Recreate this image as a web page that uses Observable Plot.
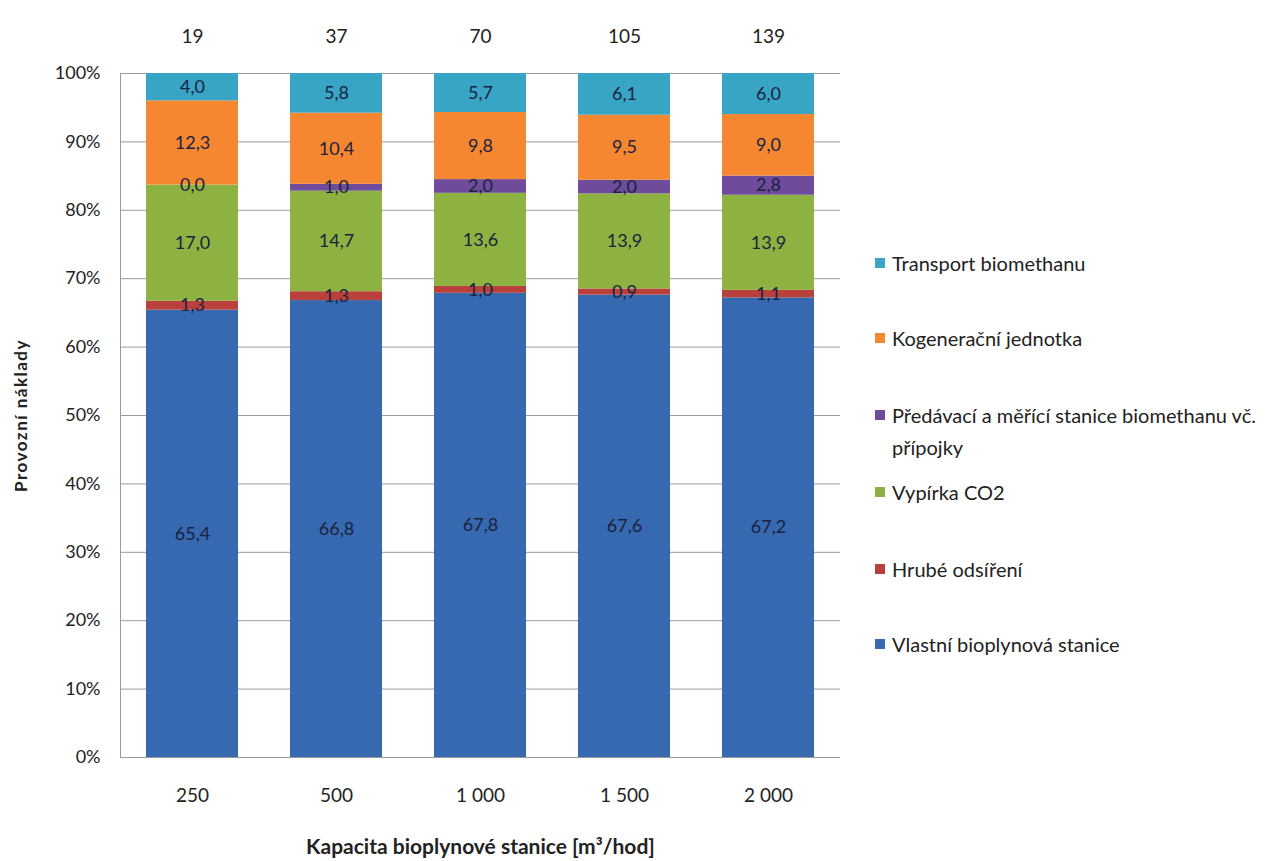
<!DOCTYPE html>
<html>
<head>
<meta charset="utf-8">
<script src="https://cdn.jsdelivr.net/npm/d3@7"></script>
<script src="https://cdn.jsdelivr.net/npm/@observablehq/plot@0.6"></script>
<style>
  body { margin: 0; background: #fff; font-family: Lato, "Open Sans", sans-serif; }
  #wrap { position: relative; width: 1268px; height: 861px; }
  #legend { position: absolute; left: 875px; top: 0; font-size: 20px; color: #222; }
  .item { position: absolute; left: 0; white-space: nowrap; line-height: 32px; }
  .sw { position: absolute; left: 0; top: 11px; width: 10px; height: 10px; }
  .lbl { position: absolute; left: 17px; top: 0; }
</style>
</head>
<body>
<div id="wrap"><div id="legend"></div></div>
<script>
// Capacity of the biogas plant (m³/h) and total operating costs per capacity
const capacities = ["250", "500", "1 000", "1 500", "2 000"];
const totals = [19, 37, 70, 105, 139];

// Cost components, listed from the bottom of each stack to the top
const series = [
  "Vlastní bioplynová stanice",
  "Hrubé odsíření",
  "Vypírka CO2",
  "Předávací a měřící stanice biomethanu vč. přípojky",
  "Kogenerační jednotka",
  "Transport biomethanu"
];
const colors = ["#3669b0", "#b9403b", "#8db241", "#6e4c9b", "#f4872f", "#38a5c5"];

// Share of each component (%) per capacity, same order as `series`
const vlastni     = [65.4, 66.8, 67.8, 67.6, 67.2];
const hrube       = [1.3, 1.3, 1.0, 0.9, 1.1];
const vypirka     = [17.0, 14.7, 13.6, 13.9, 13.9];
const predavaci   = [0.0, 1.0, 2.0, 2.0, 2.8];
const kogenerace  = [12.3, 10.4, 9.8, 9.5, 9.0];
const transport   = [4.0, 5.8, 5.7, 6.1, 6.0];
const shares = [vlastni, hrube, vypirka, predavaci, kogenerace, transport];

const rows = [];
capacities.forEach((c, i) => {
  series.forEach((s, j) => rows.push({capacity: c, series: s, value: shares[j][i]}));
});
const totalRows = capacities.map((c, i) => ({capacity: c, total: totals[i]}));

const fmt = v => v.toFixed(1).replace(".", ",");
const stack = {x: "capacity", y: "value", z: "series", offset: "normalize", order: series};

const chart = Plot.plot({
  width: 1268,
  height: 861,
  marginLeft: 120,
  marginRight: 428,
  marginTop: 73,
  marginBottom: 104,
  style: {fontFamily: "Lato, 'Open Sans', sans-serif", fontSize: "18px", color: "#222", background: "#fff"},
  x: {domain: capacities, paddingInner: 0.36, paddingOuter: 0.18},
  y: {domain: [0, 1]},
  color: {domain: series, range: colors},
  marks: [
    Plot.ruleY(d3.range(0, 1.0001, 0.1), {stroke: "#9a9a9a", strokeWidth: 1}),
    Plot.frame({anchor: "left", stroke: "#9a9a9a"}),
    Plot.barY(rows, Plot.stackY({...stack, fill: "series"})),
    Plot.text(rows, Plot.stackY({...stack, text: d => fmt(d.value), fill: "#1a2240", fontSize: 18})),
    Plot.text(totalRows, {x: "capacity", text: d => String(d.total), frameAnchor: "top", dy: -44, fontSize: 19, fill: "#222"}),
    Plot.axisY({ticks: d3.range(0, 1.0001, 0.1), tickFormat: d => Math.round(d * 100) + "%", tickSize: 0, tickPadding: 20,
      label: "Provozní náklady", labelArrow: "none", labelAnchor: "center", labelOffset: 106, fontSize: 18}),
    Plot.axisX({tickSize: 0, tickPadding: 31, label: "Kapacita bioplynové stanice [m³/hod]", labelArrow: "none",
      labelAnchor: "center", labelOffset: 96, fontSize: 19})
  ]
});

// Axis titles are bold
const yTitle = chart.querySelector("g[aria-label='y-axis label']");
if (yTitle) {
  yTitle.setAttribute("font-weight", "bold");
  yTitle.setAttribute("font-size", "17");
  yTitle.setAttribute("letter-spacing", "1.5");
}
const xTitle = chart.querySelector("g[aria-label='x-axis label']");
if (xTitle) {
  xTitle.setAttribute("font-weight", "bold");
  xTitle.setAttribute("font-size", "21");
}

document.getElementById("wrap").prepend(chart);

// Legend beside the plot, top item = top of the stack
const legendTops = {
  "Transport biomethanu": 247,
  "Kogenerační jednotka": 322,
  "Předávací a měřící stanice biomethanu vč. přípojky": 399,
  "Vypírka CO2": 476,
  "Hrubé odsíření": 553,
  "Vlastní bioplynová stanice": 628
};
const legend = document.getElementById("legend");
series.slice().reverse().forEach(s => {
  const item = document.createElement("div");
  item.className = "item";
  item.style.top = legendTops[s] + "px";
  const sw = document.createElement("div");
  sw.className = "sw";
  sw.style.background = colors[series.indexOf(s)];
  const lbl = document.createElement("div");
  lbl.className = "lbl";
  if (s.startsWith("Předávací")) {
    lbl.innerHTML = "Předávací a měřící stanice biomethanu vč.<br>přípojky";
  } else {
    lbl.textContent = s;
  }
  item.append(sw, lbl);
  legend.append(item);
});
</script>
</body>
</html>
